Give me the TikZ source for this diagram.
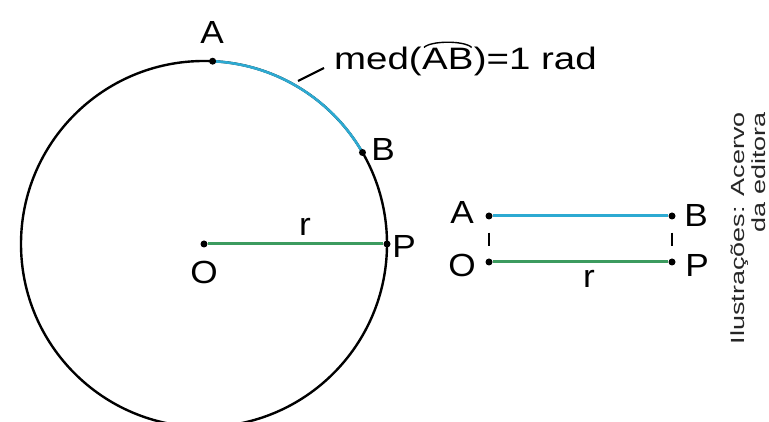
\documentclass[tikz,border=0pt]{standalone}
\usepackage{fontspec}
\setmainfont{Liberation Sans}
\usetikzlibrary{calc}
\definecolor{arcblue}{RGB}{45,170,210}
\definecolor{rgreen}{RGB}{60,155,95}
\begin{document}
\begin{tikzpicture}[x=1pt,y=1pt,
  lbl/.style={font=\fontsize{32}{34}\selectfont, inner sep=0pt},
  dot/.style={circle, fill=black, inner sep=0pt, minimum size=7pt},
  curve/.style={line width=2.4pt},
  seg/.style={line width=3pt},
  tick/.style={line width=1.4pt, dash pattern=on 13pt off 13pt, dash phase=13pt}]
\useasboundingbox (0,0) rectangle (769,422);
\clip (0,0) rectangle (769,422);
% left figure
\coordinate (O) at (204,178);
\draw[curve] (O) circle (183);
\draw[curve, arcblue, line width=2.6pt] ($(O)+(87.3:183)$) arc[start angle=87.3, end angle=30, radius=183];
\node[dot] (Od) at (O) {};
\node[dot] (Pd) at ($(O)+(0:183)$) {};
\node[dot] (Ad) at ($(O)+(87.3:183)$) {};
\node[dot] (Bd) at ($(O)+(30:183)$) {};
\draw[seg, rgreen] (Od) -- (Pd);
\node[lbl] (Al) at (212,389) {\scalebox{1.1}[1]{A}};
\node[lbl] (Bl) at (383,273) {\scalebox{1.1}[1]{B}};
\node[lbl] (Pl) at (404,176) {\scalebox{1.1}[1]{P}};
\node[lbl] (Ol) at (204,150) {\scalebox{1.1}[1]{O}};
\node[lbl] (rl) at (305,195) {\scalebox{1.1}[1]{r}};
\node[lbl, anchor=base west, font=\fontsize{31}{33}\selectfont] (med1) at (334,352) {\scalebox{1.24}[1]{med(}};
\node[lbl, anchor=base west, font=\fontsize{31}{33}\selectfont] (med2) at (med1.base east) {\scalebox{1.24}[1]{AB}};
\node[lbl, anchor=base west, font=\fontsize{31}{33}\selectfont] (med3) at (med2.base east) {\scalebox{1.24}[1]{)=1 rad}};
\draw[line width=1.4pt] ($(med2.north west)+(2,1)$) .. controls ($(med2.north west)+(9,8)$) and ($(med2.north east)+(-9,8)$) .. ($(med2.north east)+(-2,1)$);
\coordinate (m1) at (298,341);
\coordinate (m2) at (324,354);
\draw[line width=2.2pt] (m1) -- (m2);
% right figure
\node[dot] (A2) at (489,206) {};
\node[dot] (B2) at (672,206) {};
\node[dot] (O2) at (489,160) {};
\node[dot] (P2) at (672,160) {};
\draw[seg, arcblue] (A2) -- (B2);
\draw[seg, rgreen] (O2) -- (P2);
\draw[tick] (A2) -- (O2);
\draw[tick] (B2) -- (P2);
\node[lbl] (A2l) at (462,210) {\scalebox{1.1}[1]{A}};
\node[lbl] (B2l) at (696,207) {\scalebox{1.1}[1]{B}};
\node[lbl] (O2l) at (462,157) {\scalebox{1.1}[1]{O}};
\node[lbl] (P2l) at (697,157) {\scalebox{1.1}[1]{P}};
\node[lbl] (r2l) at (589,143) {\scalebox{1.1}[1]{r}};
% credit
\node[rotate=90, anchor=east, inner sep=0pt, font=\fontsize{19}{21}\selectfont, align=right, text=black!85] (cred) at (748,310)
  {\scalebox{1.42}[1]{Ilustrações: Acervo}\\\scalebox{1.42}[1]{da editora}};
\end{tikzpicture}
\end{document}
